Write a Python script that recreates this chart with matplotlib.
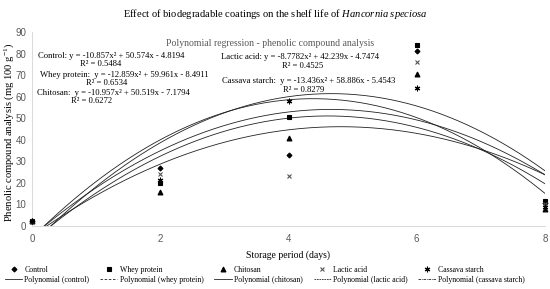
import numpy as np
import matplotlib
matplotlib.use("Agg")
import matplotlib.pyplot as plt
from matplotlib.lines import Line2D

plt.rcParams['font.family'] = 'Liberation Serif'
plt.rcParams['mathtext.fontset'] = 'custom'
plt.rcParams['mathtext.rm'] = 'Liberation Serif'
plt.rcParams['mathtext.it'] = 'Liberation Serif:italic'

# storage days
days = [0, 2, 4, 6, 8]

# phenolic compound values
control = [2.2, 26.7, 33.0, 81.0, 10.5]
whey = [2.2, 19.8, 50.6, 84.0, 11.8]
chitosan = [2.2, 15.9, 41.0, 70.7, 8.0]
lactic = [2.2, 24.1, 23.3, 76.0, 10.0]
cassava = [2.2, 21.3, 58.0, 64.0, 9.0]

# trendline coefficients as printed (x = point index starting at 0)
coef_control = [-10.857, 50.574, -4.8194]
coef_whey = [-12.859, 59.961, -8.4911]
coef_chitosan = [-10.957, 50.519, -7.1794]
coef_lactic = [-8.7782, 42.239, -4.7474]
coef_cassava = [-13.436, 58.886, -5.4543]

r2 = [0.5484, 0.6534, 0.6272, 0.4525, 0.8279]
names = ['Control', 'Whey protein', 'Chitosan', 'Lactic acid', 'Cassava starch']
poly_names = ['Polynomial (control)', 'Polynomial (whey protein)', 'Polynomial (chitosan)',
              'Polynomial (lactic acid)', 'Polynomial (cassava starch)']

series = [control, whey, chitosan, lactic, cassava]
coefs = [coef_control, coef_whey, coef_chitosan, coef_lactic, coef_cassava]
markers = ['D', 's', '^', 'x', (6, 2, 0)]
msizes = [2.5, 3.5, 3.5, 3.5, 4]
mcolors = ['black', 'black', 'black', '#555555', 'black']
lstyles = ['-', (0, (3, 2)), '-', (0, (2, 1)), (0, (3, 1, 1, 1))]

fig = plt.figure(figsize=(5.5, 2.89), dpi=100)
ax = fig.add_axes([32/550, 63/289, 513/550, 194/289])

xs = np.linspace(0, 8, 300)
for s, c, m, ms, mc in zip(series, coefs, markers, msizes, mcolors):
    ax.plot(days, s, linestyle='none', marker=m, markersize=ms, color=mc,
            markeredgewidth=0.8, clip_on=False, zorder=3)
    ax.plot(xs, np.polyval(c, xs / 2), color='#222222', linewidth=0.6)

ax.set_xlim(0, 8)
ax.set_ylim(0, 90)
ax.set_xticks(days)
ax.set_yticks(range(0, 91, 10))
ax.tick_params(length=0, labelsize=7, labelcolor='#595959')
ax.tick_params(axis='x', pad=6)
ax.tick_params(axis='y', pad=4)
for lab in ax.get_xticklabels() + ax.get_yticklabels():
    lab.set_fontfamily('Liberation Sans')
for sp in ['top', 'right']:
    ax.spines[sp].set_visible(False)
for sp in ['left', 'bottom']:
    ax.spines[sp].set_color('#d9d9d9')
    ax.spines[sp].set_linewidth(0.7)

ax.set_xlabel('Storage period (days)', fontsize=7)
ax.xaxis.set_label_coords(0.5, -0.125)
ax.set_ylabel(r'Phenolic compound analysis (mg 100 g$^{-1}$)', fontsize=7.6)
ax.yaxis.set_label_coords(-0.031, 0.48)

fig.text(0.5, 1 - 14/289, r'Effect of biodegradable coatings on the shelf life of $\it{Hancornia\ speciosa}$',
         ha='center', va='center', fontsize=7.6)
fig.text(270/550, 1 - 44/289, 'Polynomial regression - phenolic compound analysis',
         ha='center', va='center', fontsize=7, color='#595959')

# equation labels
eq_pos = [(38, 56, 80, 64), (40, 75, 86, 83), (37, 93, 71, 101), (221, 57, 282, 66), (222, 81, 283, 90)]
labels = ['Control: ', 'Whey protein:  ', 'Chitosan:  ', 'Lactic acid: ', 'Cassava starch:  ']
for lab, c, r, (x1, y1, x2, y2) in zip(labels, coefs, r2, eq_pos):
    eq = f"{lab}y = {c[0]}x\u00b2 + {c[1]}x - {abs(c[2])}"
    fig.text(x1/550, 1 - y1/289, eq, ha='left', va='center', fontsize=6.2)
    fig.text(x2/550, 1 - y2/289, f"R\u00b2 = {r}", ha='left', va='center', fontsize=6.2)

handles = []
for n, pn, m, ms, mc, ls in zip(names, poly_names, markers, msizes, mcolors, lstyles):
    handles.append(Line2D([], [], linestyle='none', marker=m, markersize=ms, color=mc,
                          markeredgewidth=0.8, label=n))
    handles.append(Line2D([], [], linestyle=ls, color='#222222', linewidth=0.6, label=pn))
fig.legend(handles=handles, loc='lower left', bbox_to_anchor=(5/550, 5/289), ncol=5,
           frameon=False, fontsize=5.6, handlelength=2.2, handletextpad=0.3,
           columnspacing=1.4, labelspacing=0.3, borderpad=0, borderaxespad=0)

fig.savefig('out.png', dpi=100)
